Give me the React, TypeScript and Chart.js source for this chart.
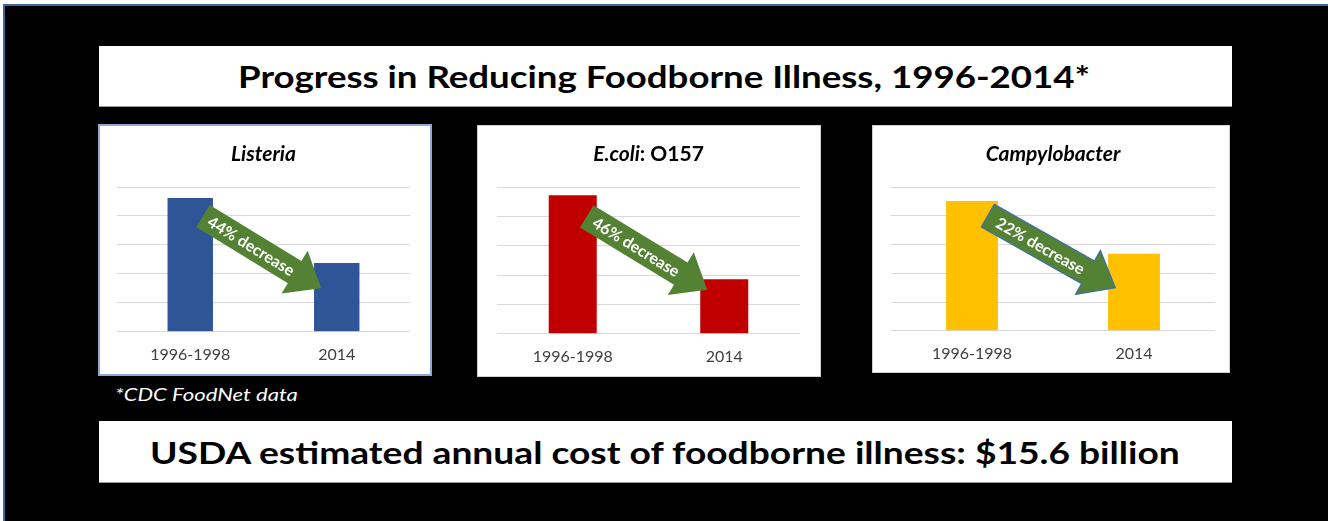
import React, { useEffect, useLayoutEffect, useRef } from "react";
import { Chart, registerables } from "chart.js";

Chart.register(...registerables);

// ---- data ----
const categories = ["1996-1998", "2014"];
const listeriaValues = [4.62, 2.38];
const ecoliValues = [4.72, 1.86];
const campyValues = [4.51, 2.68];
const decreaseLabels = ["44% decrease", "46% decrease", "22% decrease"];
const yMin = 0;
const yMax = 5;
const yStep = 1;
const arrowFromValue = 4.0;
const arrowToValue = 1.5;

const mainTitle = "Progress in Reducing Foodborne Illness, 1996-2014*";
const footnote = "*CDC FoodNet data";
const bottomText = "USDA estimated annual cost of foodborne illness: $15.6 billion";

const FONT = "Lato, 'Open Sans', sans-serif";

const arrowPlugin = {
  id: "decreaseArrow",
  afterDatasetsDraw(chart: any, _args: any, opts: any) {
    const meta = chart.getDatasetMeta(0);
    const b1: any = meta.data[0];
    const b2: any = meta.data[1];
    if (!b1 || !b2) return;
    const ys = chart.scales.y;
    const x0 = b1.x + b1.width / 2 - 10;
    const y0 = ys.getPixelForValue(opts.from);
    const x1 = b2.x - b2.width / 2 + 7;
    const y1 = ys.getPixelForValue(opts.to);
    const L = Math.hypot(x1 - x0, y1 - y0);
    const ang = Math.atan2(y1 - y0, x1 - x0);
    const sw = 13;
    const hw = 25;
    const hl = 31;
    const ctx = chart.ctx;
    ctx.save();
    ctx.translate(x0, y0);
    ctx.rotate(ang);
    ctx.beginPath();
    ctx.moveTo(0, -sw);
    ctx.lineTo(L - hl, -sw);
    ctx.lineTo(L - hl, -hw);
    ctx.lineTo(L, 0);
    ctx.lineTo(L - hl, hw);
    ctx.lineTo(L - hl, sw);
    ctx.lineTo(0, sw);
    ctx.closePath();
    ctx.fillStyle = "#548235";
    ctx.fill();
    if (opts.stroke) {
      ctx.strokeStyle = opts.stroke;
      ctx.lineWidth = 1.5;
      ctx.stroke();
    }
    ctx.fillStyle = "#ffffff";
    ctx.font = `bold 16px ${FONT}`;
    ctx.textAlign = "center";
    ctx.textBaseline = "middle";
    ctx.fillText(opts.label, (L - hl) / 2 + 3, 1);
    ctx.restore();
  },
};

type PanelProps = {
  left: number;
  top: number;
  width: number;
  height: number;
  pad: { top: number; left: number; right: number; bottom: number };
  values: number[];
  color: string;
  label: string;
  stroke?: string;
  outline: string;
  title: React.ReactNode;
  barPct: number;
};

function Panel(p: PanelProps) {
  const ref = useRef<HTMLCanvasElement>(null);
  useEffect(() => {
    if (!ref.current) return;
    const chart = new Chart(ref.current, {
      type: "bar",
      data: {
        labels: categories,
        datasets: [
          {
            data: p.values,
            backgroundColor: p.color,
            borderWidth: 0,
            categoryPercentage: 1,
            barPercentage: p.barPct,
          },
        ],
      },
      options: {
        responsive: false,
        animation: false,
        layout: { padding: p.pad },
        plugins: {
          legend: { display: false },
          tooltip: { enabled: false },
          title: { display: false },
          decreaseArrow: {
            from: arrowFromValue,
            to: arrowToValue,
            label: p.label,
            stroke: p.stroke,
          },
        } as any,
        scales: {
          x: {
            grid: { display: false, drawTicks: false },
            border: { display: false },
            ticks: {
              color: "#404040",
              font: { family: FONT, size: 16 },
              padding: 13,
            },
          },
          y: {
            min: yMin,
            max: yMax,
            ticks: { display: false, stepSize: yStep },
            grid: { color: "#D9D9D9", drawTicks: false, lineWidth: 1 },
            border: { display: false },
          },
        },
      },
      plugins: [arrowPlugin],
    });
    return () => chart.destroy();
  }, []);
  return (
    <div
      style={{
        position: "absolute",
        left: p.left,
        top: p.top,
        width: p.width,
        height: p.height,
        background: "#fff",
        outline: p.outline,
      }}
    >
      <canvas
        ref={ref}
        width={p.width}
        height={p.height}
        style={{ position: "absolute", left: 0, top: 0, width: p.width, height: p.height }}
      />
      <div
        style={{
          position: "absolute",
          left: p.pad.left,
          right: p.pad.right,
          top: 14,
          height: 26,
          lineHeight: "26px",
          textAlign: "center",
          fontFamily: FONT,
          fontWeight: 700,
          fontSize: 21,
          color: "#000",
        }}
      >
        {p.title}
      </div>
    </div>
  );
}

function FitText(props: {
  text: string;
  cx?: number;
  left?: number;
  cy: number;
  width: number;
  size: number;
  weight: number;
  italic?: boolean;
  color: string;
}) {
  const ref = useRef<HTMLSpanElement>(null);
  useLayoutEffect(() => {
    const el = ref.current;
    if (!el) return;
    const w = el.offsetWidth;
    const s = w > 0 ? props.width / w : 1;
    const x0 = props.cx !== undefined ? props.cx - props.width / 2 : (props.left as number);
    el.style.transformOrigin = "0 50%";
    el.style.transform = `scaleX(${s})`;
    el.style.left = `${x0}px`;
  }, []);
  return (
    <span
      ref={ref}
      style={{
        position: "absolute",
        top: props.cy - props.size * 0.6,
        height: props.size * 1.2,
        lineHeight: `${props.size * 1.2}px`,
        whiteSpace: "nowrap",
        fontFamily: FONT,
        fontSize: props.size,
        fontWeight: props.weight,
        fontStyle: props.italic ? "italic" : "normal",
        color: props.color,
      }}
    >
      {props.text}
    </span>
  );
}

export default function App() {
  return (
    <div
      style={{
        position: "fixed",
        left: 0,
        top: 0,
        width: 1328,
        height: 521,
        background: "#fff",
        overflow: "hidden",
      }}
    >
      <div
        style={{
          position: "absolute",
          left: 3,
          top: 4,
          right: 0,
          bottom: 0,
          background: "#000",
          borderTop: "2px solid #3F6A9C",
          borderLeft: "2px solid #3F6A9C",
        }}
      />
      <div
        style={{
          position: "absolute",
          left: 99,
          top: 46,
          width: 1133,
          height: 60,
          background: "#fff",
          boxShadow: "0 1px 0 #9a9a9a",
        }}
      />
      <FitText text={mainTitle} cx={664} cy={77} width={852} size={31} weight={700} color="#000" />

      <Panel
        left={100}
        top={126}
        width={330}
        height={248}
        pad={{ top: 61, left: 17, right: 20, bottom: -3 }}
        values={listeriaValues}
        color="#2F5597"
        label={decreaseLabels[0]}
        outline="2px solid #8EA9D6"
        barPct={0.31}
        title={<i>Listeria</i>}
      />
      <Panel
        left={478}
        top={126}
        width={342}
        height={250}
        pad={{ top: 61, left: 19, right: 20, bottom: -3 }}
        values={ecoliValues}
        color="#C00000"
        label={decreaseLabels[1]}
        outline="1px solid #cfcfcf"
        barPct={0.317}
        title={
          <span>
            <i>E.coli</i>: O157
          </span>
        }
      />
      <Panel
        left={873}
        top={126}
        width={356}
        height={246}
        pad={{ top: 61, left: 18, right: 14, bottom: -4 }}
        values={campyValues}
        color="#FFC000"
        label={decreaseLabels[2]}
        stroke="#41719C"
        outline="1px solid #cfcfcf"
        barPct={0.32}
        title={<i>Campylobacter</i>}
      />

      <FitText text={footnote} left={115} cy={395} width={183} size={17} weight={400} italic color="#fff" />

      <div
        style={{
          position: "absolute",
          left: 99,
          top: 421,
          width: 1133,
          height: 61,
          background: "#fff",
          boxShadow: "0 1px 0 #9a9a9a",
        }}
      />
      <FitText text={bottomText} cx={665} cy={453} width={1030} size={31} weight={700} color="#000" />
    </div>
  );
}
